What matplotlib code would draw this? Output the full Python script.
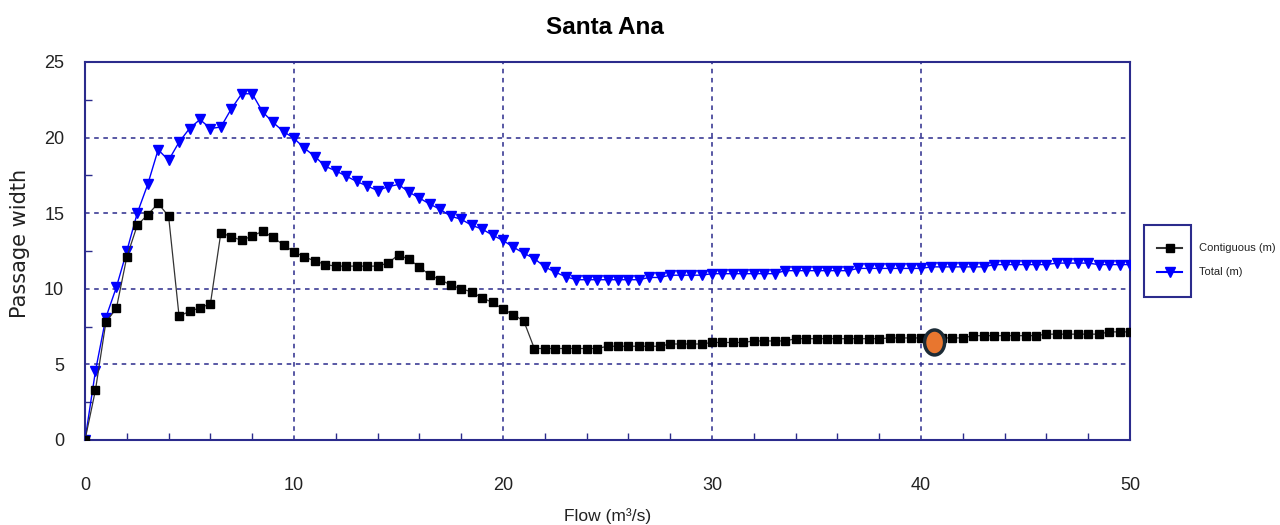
import numpy as np
import matplotlib.pyplot as plt
from matplotlib.lines import Line2D
from matplotlib.patches import Ellipse, Rectangle
from matplotlib.ticker import MultipleLocator

# Flow sampled every 0.5 m3/s from 0 to 50
flow = np.arange(0, 50.5, 0.5)

contiguous = [
    0.0, 3.3, 7.8, 8.7, 12.1, 14.2, 14.9, 15.65, 14.8, 8.2,
    8.5, 8.75, 9.0, 13.7, 13.45, 13.2, 13.5, 13.8, 13.4, 12.9,
    12.45, 12.1, 11.85, 11.6, 11.5, 11.5, 11.5, 11.5, 11.5, 11.7,
    12.25, 11.95, 11.45, 10.9, 10.6, 10.25, 10.0, 9.8, 9.4, 9.1,
    8.65, 8.3, 7.85,
    6.05, 6.05, 6.05, 6.05, 6.05, 6.05, 6.05,
    6.2, 6.2, 6.2, 6.2, 6.2, 6.2,
    6.35, 6.35, 6.35, 6.35,
    6.45, 6.45, 6.45, 6.45,
    6.55, 6.55, 6.55, 6.55,
    6.7, 6.7, 6.7, 6.7, 6.7, 6.7, 6.7, 6.7, 6.7,
    6.75, 6.75, 6.75, 6.75, 6.75, 6.75, 6.75, 6.75,
    6.9, 6.9, 6.9, 6.9, 6.9, 6.9, 6.9,
    7.0, 7.0, 7.0, 7.0, 7.0, 7.0,
    7.15, 7.15, 7.15,
]

total = [
    0.0, 4.56, 8.1, 10.1, 12.5, 15.0, 16.9, 19.2, 18.5, 19.7,
    20.6, 21.2, 20.6, 20.7, 21.9, 22.9, 22.9, 21.7, 21.0, 20.4,
    19.95, 19.3, 18.75, 18.1, 17.8, 17.45, 17.1, 16.8, 16.5, 16.75,
    16.9, 16.4, 16.0, 15.6, 15.25, 14.8, 14.6, 14.2, 13.95, 13.55,
    13.2, 12.75, 12.35, 12.0, 11.45, 11.1, 10.8,
    10.6, 10.6, 10.6, 10.6, 10.6, 10.6, 10.6,
    10.75, 10.75,
    10.9, 10.9, 10.9, 10.9,
    11.0, 11.0, 11.0, 11.0, 11.0, 11.0, 11.0,
    11.2, 11.2, 11.2, 11.2, 11.2, 11.2, 11.2,
    11.35, 11.35, 11.35, 11.35, 11.35, 11.35, 11.35,
    11.45, 11.45, 11.45, 11.45, 11.45, 11.45,
    11.6, 11.6, 11.6, 11.6, 11.6, 11.6,
    11.7, 11.7, 11.7, 11.7,
    11.6, 11.6, 11.6, 11.6,
]

# highlighted operating point
highlight_flow = 40.65
highlight_width = 6.45

series_labels = ["Contiguous (m)", "Total (m)"]

narrow = ['Liberation Sans Narrow', 'Liberation Sans', 'DejaVu Sans']
navy = '#2B2B8C'

fig = plt.figure(figsize=(12.8, 5.25), dpi=100)
ax = fig.add_axes([85 / 1280, 85 / 525, 1045 / 1280, 378 / 525])

ax.plot(flow, total, color='#0000FF', lw=1.0, marker='v', ms=7.8,
        mfc='#0000FF', mec='#0000FF', zorder=3)
ax.plot(flow, contiguous, color='#333333', lw=0.9, marker='s', ms=6.4,
        mfc='black', mec='black', zorder=4)

ax.add_patch(Ellipse((highlight_flow, highlight_width), width=0.96, height=1.65,
                     facecolor='#E8762F', edgecolor='#1C2B36', lw=2.5, zorder=6))

ax.set_xlim(0, 50)
ax.set_ylim(0, 25)
ax.xaxis.set_major_locator(MultipleLocator(10))
ax.xaxis.set_minor_locator(MultipleLocator(2))
ax.yaxis.set_major_locator(MultipleLocator(5))
ax.yaxis.set_minor_locator(MultipleLocator(2.5))

ax.grid(True, which='major', color=navy, ls=(0, (3, 3)), lw=1.1)
ax.tick_params(which='both', direction='in', color=navy, top=False, right=False)
ax.tick_params(which='major', length=0)
ax.tick_params(which='minor', length=5, width=1)
ax.tick_params(axis='x', pad=27)
ax.tick_params(axis='y', pad=15)
for spine in ax.spines.values():
    spine.set_color(navy)
    spine.set_linewidth(1.5)

for lbl in ax.get_xticklabels() + ax.get_yticklabels():
    lbl.set_family(narrow)
    lbl.set_fontsize(13)
    lbl.set_color('#222222')

ax.set_xlabel('Flow (m³/s)', family=narrow, fontsize=12.5, color='#222222', labelpad=10)
fig.text(20 / 1280, 1 - 243 / 525, 'Passage width', rotation=90, ha='center', va='center',
         family=['DejaVu Sans'], fontsize=15, color='#222222')

fig.text(605 / 1280, 1 - 28 / 525, 'Santa Ana', ha='center', va='center',
         family=narrow, fontsize=17.5, weight='bold', color='black')

# legend: framed samples with labels outside the box
W, H = 1280, 525
fig.add_artist(Rectangle((1144 / W, 1 - 297 / H), 47 / W, 72 / H, transform=fig.transFigure,
                         fill=False, edgecolor=navy, lw=1.5))
legend_styles = [
    dict(color='#333333', marker='s', ms=6.3, mfc='black', mec='black'),
    dict(color='#0000FF', marker='v', ms=7.5, mfc='#0000FF', mec='#0000FF'),
]
for i, (label, style) in enumerate(zip(series_labels, legend_styles)):
    yy = 1 - (248 + 24 * i) / H
    fig.add_artist(Line2D([1157 / W, 1169.5 / W, 1182 / W], [yy, yy, yy], transform=fig.transFigure,
                          lw=1.5, markevery=[1], **style))
    fig.text(1199 / W, yy, label, ha='left', va='center', family=narrow, fontsize=8,
             color='#222222')

fig.savefig('out.png', dpi=100)
